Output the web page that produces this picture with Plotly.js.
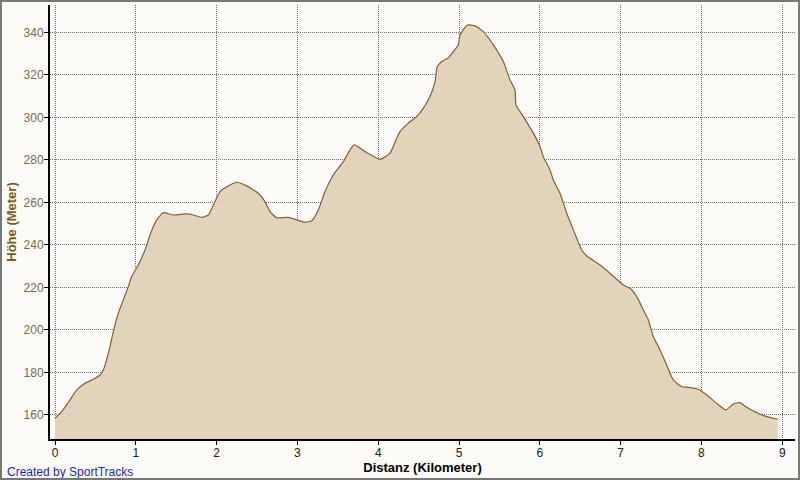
<!DOCTYPE html>
<html>
<head>
<meta charset="utf-8">
<script src="https://cdn.plot.ly/plotly-3.0.1.min.js"></script>
<style>
html,body{margin:0;padding:0;background:#fcfbf7;}
#wrap{position:relative;width:800px;height:480px;}
#chart{width:800px;height:480px;}
#frame{position:absolute;left:0;top:0;width:800px;height:480px;box-sizing:border-box;border:2px solid #777;pointer-events:none;}
</style>
</head>
<body>
<div id="wrap"><div id="chart"></div><div id="frame"></div></div>
<script>
// Distance (km)
const distanceKm = [0.00,0.083,0.186,0.269,0.371,0.474,0.557,0.598,0.660,0.722,0.783,0.845,0.907,0.949,1.031,1.114,1.176,1.259,1.340,1.464,1.630,1.712,1.816,1.897,1.980,2.042,2.166,2.249,2.373,2.516,2.599,2.661,2.744,2.887,2.991,3.094,3.177,3.259,3.342,3.444,3.568,3.700,3.858,4.022,4.146,4.229,4.270,4.373,4.476,4.558,4.641,4.703,4.731,4.786,4.868,4.930,4.991,5.012,5.103,5.198,5.301,5.425,5.548,5.631,5.693,5.705,5.796,5.920,6.002,6.043,6.126,6.167,6.250,6.333,6.415,6.519,6.581,6.745,6.869,7.033,7.116,7.199,7.281,7.343,7.405,7.488,7.570,7.652,7.756,7.838,7.962,8.066,8.189,8.304,8.395,8.478,8.560,8.684,8.808,8.944];
// Elevation (m)
const elevationM = [158.4,161.6,167.1,171.8,174.9,176.8,178.8,181.2,189.0,199.2,207.9,214.1,220.4,225.1,230.6,237.6,244.7,251.8,255.2,254.1,254.6,254.1,253.0,254.1,260.4,265.1,268.2,269.5,267.8,264.3,260.4,255.7,252.8,253.0,251.8,250.7,251.4,256.5,265.1,272.9,279.2,287.1,283.4,280.3,283.2,290.2,293.3,297.3,300.4,304.3,309.8,316.8,323.9,326.3,328.1,331.0,334.1,338.8,343.5,343.1,340.4,334.1,326.3,317.6,312.9,305.9,300.4,292.6,286.3,281.5,275.3,270.6,264.3,254.9,247.1,237.6,234.8,230.6,226.7,221.2,219.6,215.7,209.4,204.7,196.8,190.6,183.5,176.5,173.3,173.0,172.1,169.4,165.5,162.4,165.2,165.8,163.6,161.1,159.2,158.0];
const xTicks = [0,1,2,3,4,5,6,7,8,9];
const yTicks = [160,180,200,220,240,260,280,300,320,340];

const trace = {
  x: distanceKm, y: elevationM, type: 'scatter', mode: 'lines',
  fill: 'tozeroy', fillcolor: '#e2d3bb',
  line: {color: '#806238', width: 1.2, shape: 'spline', smoothing: 0.5},
  hoverinfo: 'skip'
};

const layout = {
  width: 800, height: 480,
  margin: {l: 50, r: 5, t: 5, b: 41, pad: 0},
  paper_bgcolor: '#fcfbf7', plot_bgcolor: '#fcfbf7',
  showlegend: false,
  font: {family: 'DejaVu Sans, Liberation Sans, sans-serif', size: 11, color: '#000'},
  xaxis: {
    range: [-0.062, 9.158], tickvals: xTicks, ticktext: xTicks.map(String),
    showline: true, linecolor: '#000', linewidth: 2,
    ticks: 'outside', ticklen: 4, tickcolor: '#000', tickwidth: 1,
    showgrid: true, gridcolor: '#707070', griddash: '1px,1px', gridwidth: 1,
    zeroline: false, tickfont: {color: '#222', size: 12, family: 'Liberation Sans, sans-serif'},
    ticklabelstandoff: -2,
    title: {text: 'Distanz (Kilometer)', font: {size: 13, color: '#000', family: 'Liberation Sans, sans-serif', weight: 'bold'}, standoff: 2}
  },
  yaxis: {
    range: [148.7, 352.9], tickvals: yTicks, ticktext: yTicks.map(String),
    showline: true, linecolor: '#000', linewidth: 2,
    ticks: 'outside', ticklen: 4, tickcolor: '#000', tickwidth: 1,
    showgrid: true, gridcolor: '#707070', griddash: '1px,1px', gridwidth: 1,
    zeroline: false, tickfont: {color: '#7a6a50', size: 12, family: 'Liberation Sans, sans-serif'},
    ticklabelstandoff: -2,
    title: {text: 'H\u00f6he (Meter)', font: {size: 13, color: '#7a5a20', family: 'Liberation Sans, sans-serif', weight: 'bold'}, standoff: 4}
  },
  annotations: [{
    text: 'Created by SportTracks', xref: 'paper', yref: 'paper',
    x: -0.0604, y: -0.076, xanchor: 'left', yanchor: 'middle', showarrow: false,
    font: {size: 12, color: '#2626c8', family: 'Liberation Sans, sans-serif'}
  }]
};

Plotly.newPlot('chart', [trace], layout, {displayModeBar: false, staticPlot: true});
</script>
</body>
</html>
